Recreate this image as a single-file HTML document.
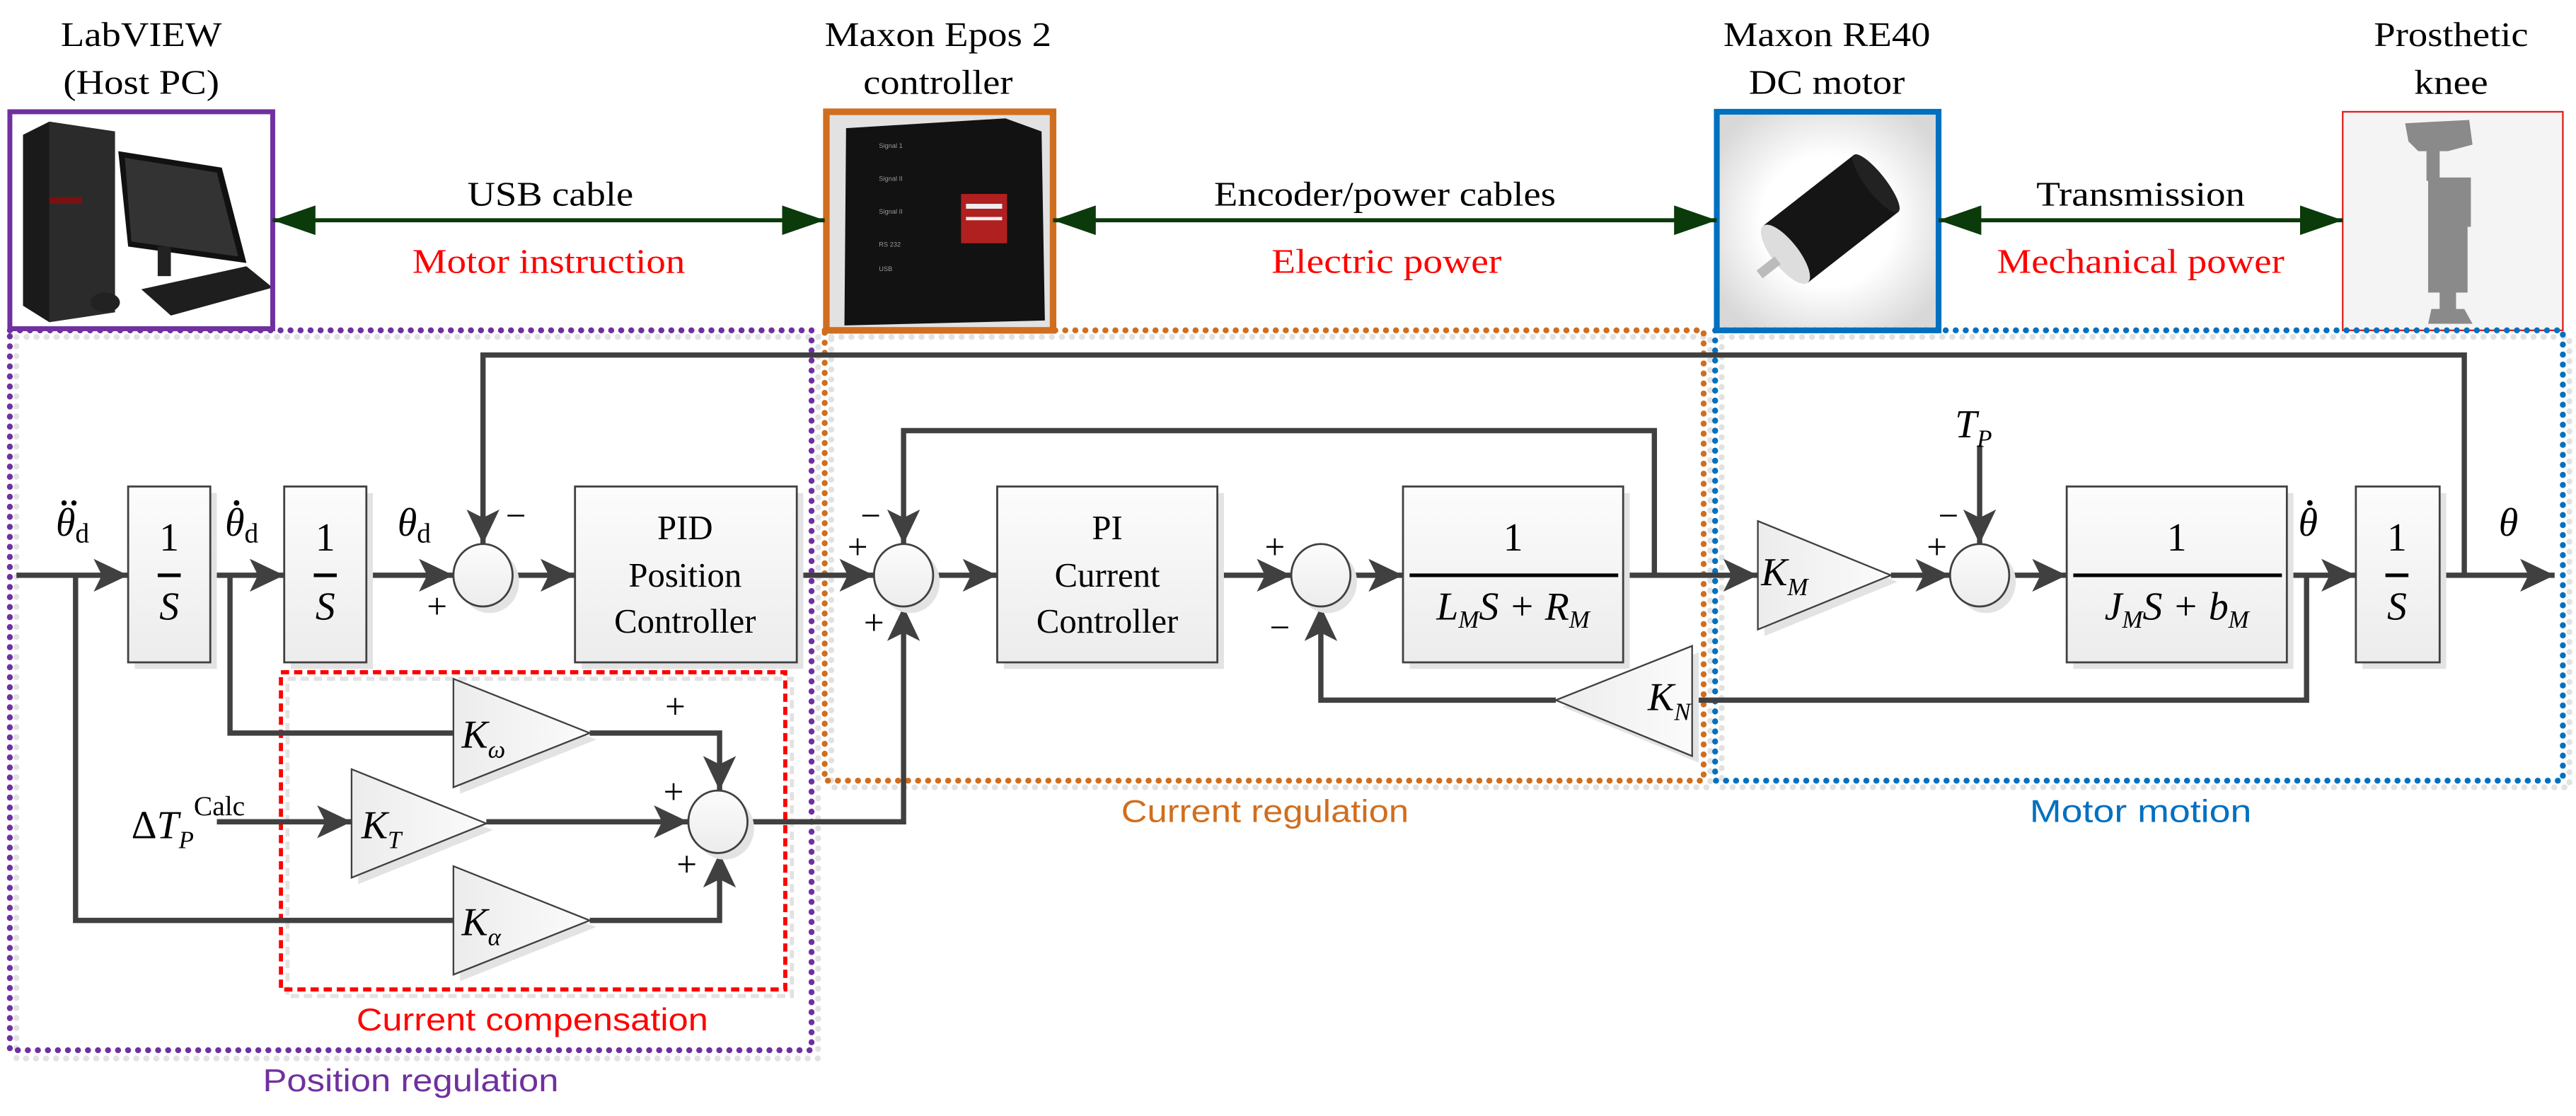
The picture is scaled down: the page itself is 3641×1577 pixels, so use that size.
<!DOCTYPE html>
<html><head><meta charset="utf-8"><style>
html,body{margin:0;padding:0;background:#fff;}
svg{display:block;}
.t{font-family:"Liberation Serif",serif;font-size:21px;fill:#000;}
.r{fill:#ff0000;}
.m{font-family:"Liberation Serif",serif;font-style:italic;font-size:24px;fill:#000;}
.s{font-family:"Liberation Sans Narrow","Liberation Sans",sans-serif;font-size:19px;}
.ln{fill:none;stroke:#404040;stroke-width:3.2;}
.blk{fill:url(#g);stroke:#404040;stroke-width:1.2;}
.sh{fill:#e3e3e3;}
.sg{font-family:"Liberation Serif",serif;font-size:22px;fill:#000;}
</style></head><body>
<svg width="3641" height="1577" viewBox="0 0 1568 679" preserveAspectRatio="none" xmlns="http://www.w3.org/2000/svg">
<defs>
<linearGradient id="g" x1="0" y1="0" x2="0" y2="1"><stop offset="0" stop-color="#fcfcfc"/><stop offset="1" stop-color="#ececec"/></linearGradient>
<linearGradient id="tg" x1="0" y1="0" x2="1" y2="0"><stop offset="0" stop-color="#ececec"/><stop offset="1" stop-color="#fbfbfb"/></linearGradient>
<marker id="a" markerUnits="userSpaceOnUse" viewBox="0 0 21 20" refX="21" refY="10" markerWidth="21" markerHeight="20" orient="auto"><path d="M0 0 L21 10 L0 20 L5 10 Z" fill="#404040"/></marker>
<marker id="ga" markerUnits="userSpaceOnUse" viewBox="0 0 26 18" refX="26" refY="9" markerWidth="26" markerHeight="18" orient="auto-start-reverse"><path d="M0 0 L26 9 L0 18 Z" fill="#0b3a0b"/></marker>
<radialGradient id="mg" cx="0.5" cy="0.5" r="0.6"><stop offset="0.5" stop-color="#fff"/><stop offset="1" stop-color="#d8d8d8"/></radialGradient>
</defs>

<!-- top labels -->
<text class="t" x="86" y="28" text-anchor="middle" textLength="98" lengthAdjust="spacingAndGlyphs">LabVIEW</text>
<text class="t" x="86" y="57" text-anchor="middle" textLength="95" lengthAdjust="spacingAndGlyphs">(Host PC)</text>
<text class="t" x="571" y="28" text-anchor="middle" textLength="138" lengthAdjust="spacingAndGlyphs">Maxon Epos 2</text>
<text class="t" x="571" y="57" text-anchor="middle" textLength="91" lengthAdjust="spacingAndGlyphs">controller</text>
<text class="t" x="1112" y="28" text-anchor="middle" textLength="126" lengthAdjust="spacingAndGlyphs">Maxon RE40</text>
<text class="t" x="1112" y="57" text-anchor="middle" textLength="95" lengthAdjust="spacingAndGlyphs">DC motor</text>
<text class="t" x="1492" y="28" text-anchor="middle" textLength="94" lengthAdjust="spacingAndGlyphs">Prosthetic</text>
<text class="t" x="1492" y="57" text-anchor="middle" textLength="45" lengthAdjust="spacingAndGlyphs">knee</text>

<!-- PC image -->
<rect x="6" y="68" width="160" height="132" fill="#fff"/>
<polygon points="14,82 30,74 70,80 70,190 30,196 14,186" fill="#1a1a1a"/>
<polygon points="30,74 70,80 70,190 30,196" fill="#2b2b2b"/>
<rect x="30" y="120" width="20" height="4" fill="#7a1010"/>
<polygon points="72,92 135,102 150,160 78,150" fill="#111"/>
<polygon points="76,96 132,105 145,156 80,147" fill="#333"/>
<rect x="96" y="150" width="8" height="18" fill="#222"/>
<polygon points="86,176 150,162 166,175 104,192" fill="#1e1e1e"/>
<ellipse cx="64" cy="184" rx="9" ry="6" fill="#222"/>
<rect x="6" y="68" width="160" height="132" fill="none" stroke="#7030a0" stroke-width="3"/>

<!-- controller image -->
<rect x="503" y="68" width="138" height="133" fill="#e2e2e2"/>
<polygon points="515,78 612,72 634,80 636,195 514,198" fill="#121212"/>
<rect x="585" y="118" width="28" height="30" fill="#b02020"/>
<rect x="588" y="124" width="22" height="3" fill="#eee"/>
<rect x="588" y="132" width="22" height="2" fill="#eee"/>
<g fill="#999" font-size="4" font-family="Liberation Sans,sans-serif"><text x="535" y="90">Signal 1</text><text x="535" y="110">Signal II</text><text x="535" y="130">Signal II</text><text x="535" y="150">RS 232</text><text x="535" y="165">USB</text></g>
<rect x="503" y="68" width="138" height="133" fill="none" stroke="#d06e1e" stroke-width="4"/>

<!-- motor image -->
<rect x="1045" y="68" width="135" height="133" fill="url(#mg)"/>
<g transform="rotate(-38 1112 135)">
<rect x="1080" y="113" width="70" height="44" fill="#151515"/>
<ellipse cx="1150" cy="135" rx="6" ry="22" fill="#222"/>
<ellipse cx="1080" cy="135" rx="8" ry="22" fill="#ddd"/>
<rect x="1060" y="132" width="14" height="6" fill="#bbb"/>
</g>
<rect x="1045" y="68" width="135" height="133" fill="none" stroke="#0070c0" stroke-width="3.5"/>

<!-- knee image -->
<rect x="1426" y="68" width="134" height="133" fill="#f4f4f4"/>
<g fill="#8a8a8a">
<polygon points="1464,75 1503,73 1505,88 1490,92 1472,92 1466,86"/>
<rect x="1477" y="90" width="8" height="20"/>
<rect x="1478" y="108" width="26" height="30"/>
<rect x="1478" y="138" width="24" height="40"/>
<rect x="1485" y="175" width="10" height="15"/>
<polygon points="1480,188 1500,188 1505,197 1478,197"/>
</g>
<rect x="1426" y="68" width="134" height="133" fill="none" stroke="#e02020" stroke-width="1"/>

<!-- double arrows -->
<path d="M166 134 H502" stroke="#0b3a0b" stroke-width="2.5" marker-start="url(#ga)" marker-end="url(#ga)"/>
<path d="M641 134 H1045" stroke="#0b3a0b" stroke-width="2.5" marker-start="url(#ga)" marker-end="url(#ga)"/>
<path d="M1180 134 H1426" stroke="#0b3a0b" stroke-width="2.5" marker-start="url(#ga)" marker-end="url(#ga)"/>
<text class="t" x="335" y="125" text-anchor="middle" textLength="101" lengthAdjust="spacingAndGlyphs">USB cable</text>
<text class="t r" x="334" y="166" text-anchor="middle" textLength="166" lengthAdjust="spacingAndGlyphs">Motor instruction</text>
<text class="t" x="843" y="125" text-anchor="middle" textLength="208" lengthAdjust="spacingAndGlyphs">Encoder/power cables</text>
<text class="t r" x="844" y="166" text-anchor="middle" textLength="140" lengthAdjust="spacingAndGlyphs">Electric power</text>
<text class="t" x="1303" y="125" text-anchor="middle" textLength="127" lengthAdjust="spacingAndGlyphs">Transmission</text>
<text class="t r" x="1303" y="166" text-anchor="middle" textLength="175" lengthAdjust="spacingAndGlyphs">Mechanical power</text>

<!-- region boxes shadows -->
<g fill="none" stroke="#e2e2e2" stroke-width="3.6" stroke-linecap="round" stroke-dasharray="0.1 6">
<rect x="10" y="205" width="488" height="439"/>
<rect x="506" y="205" width="535" height="274"/>
<rect x="1048" y="205" width="516" height="274"/>
</g>
<!-- region boxes -->
<g fill="none" stroke-width="3.6" stroke-linecap="round" stroke-dasharray="0.1 6">
<rect x="6" y="201" width="488" height="438" stroke="#7030a0"/>
<rect x="502" y="201" width="535" height="274" stroke="#d06e1e"/>
<rect x="1044" y="201" width="516" height="274" stroke="#0070c0"/>
</g>
<rect x="175" y="413" width="307" height="193" fill="none" stroke="#e2e2e2" stroke-width="2.5" stroke-dasharray="5 3"/>
<rect x="171" y="409" width="307" height="193" fill="none" stroke="#ff0000" stroke-width="2.5" stroke-dasharray="5 3"/>
<text class="s" x="324" y="627" text-anchor="middle" fill="#ff0000" textLength="214" lengthAdjust="spacingAndGlyphs">Current compensation</text>
<text class="s" x="250" y="664" text-anchor="middle" fill="#7030a0" textLength="180" lengthAdjust="spacingAndGlyphs">Position regulation</text>
<text class="s" x="770" y="500" text-anchor="middle" fill="#d06e1e" textLength="175" lengthAdjust="spacingAndGlyphs">Current regulation</text>
<text class="s" x="1303" y="500" text-anchor="middle" fill="#0070c0" textLength="135" lengthAdjust="spacingAndGlyphs">Motor motion</text>

<!-- signal lines -->
<g class="ln">
<path d="M10 350 H78" marker-end="url(#a)"/>
<path d="M46 350 V560 H276"/>
<path d="M128 350 H173" marker-end="url(#a)"/>
<path d="M140 350 V446 H276"/>
<path d="M223 350 H276" marker-end="url(#a)"/>
<path d="M312 350 H350" marker-end="url(#a)"/>
<path d="M485 350 H532" marker-end="url(#a)"/>
<path d="M568 350 H607" marker-end="url(#a)"/>
<path d="M741 350 H786" marker-end="url(#a)"/>
<path d="M822 350 H854" marker-end="url(#a)"/>
<path d="M988 350 H1070" marker-end="url(#a)"/>
<path d="M1007 350 V262 H550 V331" marker-end="url(#a)"/>
<path d="M1151 350 H1187" marker-end="url(#a)"/>
<path d="M1223 350 H1258" marker-end="url(#a)"/>
<path d="M1392 350 H1434" marker-end="url(#a)"/>
<path d="M1404 350 V426 H1030"/>
<path d="M947 426 H804 V369" marker-end="url(#a)"/>
<path d="M1485 350 H1555" marker-end="url(#a)"/>
<path d="M1500 350 V216 H294 V331" marker-end="url(#a)"/>
<path d="M1205 271 V331" marker-end="url(#a)"/>
<path d="M132 500 H214" marker-end="url(#a)"/>
<path d="M359 446 H438 V481" marker-end="url(#a)"/>
<path d="M296 500 H419" marker-end="url(#a)"/>
<path d="M359 560 H438 V519" marker-end="url(#a)"/>
<path d="M456 500 H550 V369" marker-end="url(#a)"/>
</g>

<!-- blocks -->
<g>
<rect class="sh" x="82" y="300" width="50" height="107"/><rect class="blk" x="78" y="296" width="50" height="107"/>
<rect class="sh" x="177" y="300" width="50" height="107"/><rect class="blk" x="173" y="296" width="50" height="107"/>
<rect class="sh" x="354" y="300" width="135" height="107"/><rect class="blk" x="350" y="296" width="135" height="107"/>
<rect class="sh" x="611" y="300" width="134" height="107"/><rect class="blk" x="607" y="296" width="134" height="107"/>
<rect class="sh" x="858" y="300" width="134" height="107"/><rect class="blk" x="854" y="296" width="134" height="107"/>
<rect class="sh" x="1262" y="300" width="134" height="107"/><rect class="blk" x="1258" y="296" width="134" height="107"/>
<rect class="sh" x="1438" y="300" width="51" height="107"/><rect class="blk" x="1434" y="296" width="51" height="107"/>
</g>

<!-- triangles -->
<polygon points="280,417 280,483 363,450" class="sh"/><polygon points="276,413 276,479 359,446" fill="url(#tg)" stroke="#404040" stroke-width="1"/>
<polygon points="218,472 218,538 300,505" class="sh"/><polygon points="214,468 214,534 296,501" fill="url(#tg)" stroke="#404040" stroke-width="1"/>
<polygon points="280,531 280,597 363,564" class="sh"/><polygon points="276,527 276,593 359,560" fill="url(#tg)" stroke="#404040" stroke-width="1"/>
<polygon points="1074,321 1074,387 1155,354" class="sh"/><polygon points="1070,317 1070,383 1151,350" fill="url(#tg)" stroke="#404040" stroke-width="1"/>
<polygon points="1034,397 1034,464 951,430" class="sh"/><polygon points="1030,393 1030,460 947,426" fill="url(#tg)" stroke="#404040" stroke-width="1"/>

<!-- summing junctions -->
<g>
<ellipse cx="298" cy="354" rx="18" ry="19" fill="#e3e3e3"/><ellipse cx="294" cy="350" rx="18" ry="19" fill="url(#g)" stroke="#404040" stroke-width="1.2"/>
<ellipse cx="554" cy="354" rx="18" ry="19" fill="#e3e3e3"/><ellipse cx="550" cy="350" rx="18" ry="19" fill="url(#g)" stroke="#404040" stroke-width="1.2"/>
<ellipse cx="808" cy="354" rx="18" ry="19" fill="#e3e3e3"/><ellipse cx="804" cy="350" rx="18" ry="19" fill="url(#g)" stroke="#404040" stroke-width="1.2"/>
<ellipse cx="1209" cy="354" rx="18" ry="19" fill="#e3e3e3"/><ellipse cx="1205" cy="350" rx="18" ry="19" fill="url(#g)" stroke="#404040" stroke-width="1.2"/>
<ellipse cx="441" cy="504" rx="18" ry="19" fill="#e3e3e3"/><ellipse cx="437" cy="500" rx="18" ry="19" fill="url(#g)" stroke="#404040" stroke-width="1.2"/>
</g>

<!-- block texts -->
<g class="t" text-anchor="middle">
<text x="103" y="335" style="font-size:24px">1</text>
<text x="198" y="335" style="font-size:24px">1</text>
<text x="1459" y="335" style="font-size:24px">1</text>
<text x="921" y="335" style="font-size:24px">1</text>
<text x="1325" y="335" style="font-size:24px">1</text>
</g>
<g stroke="#000" stroke-width="2.2">
<path d="M96 350 H110"/><path d="M191 350 H205"/><path d="M1452 350 H1466"/>
<path d="M858 350 H985"/><path d="M1262 350 H1389"/>
</g>
<g class="m" text-anchor="middle">
<text x="103" y="377">S</text><text x="198" y="377">S</text><text x="1459" y="377">S</text>
<text x="921" y="377">L<tspan font-size="15" dy="5">M</tspan><tspan dy="-5">S + R</tspan><tspan font-size="15" dy="5">M</tspan></text>
<text x="1325" y="377">J<tspan font-size="15" dy="5">M</tspan><tspan dy="-5">S + b</tspan><tspan font-size="15" dy="5">M</tspan></text>
</g>
<g class="t" text-anchor="middle">
<text x="417" y="328">PID</text>
<text x="417" y="357">Position</text>
<text x="417" y="385">Controller</text>
<text x="674" y="328">PI</text>
<text x="674" y="357">Current</text>
<text x="674" y="385">Controller</text>
</g>

<!-- gains labels -->
<g class="m">
<text x="281" y="455">K<tspan font-size="15" dy="6">ω</tspan></text>
<text x="220" y="510">K<tspan font-size="15" dy="6">T</tspan></text>
<text x="281" y="569">K<tspan font-size="15" dy="6">α</tspan></text>
<text x="1072" y="356">K<tspan font-size="15" dy="6">M</tspan></text>
<text x="1003" y="432">K<tspan font-size="15" dy="6">N</tspan></text>
<text x="1190" y="266">T<tspan font-size="15" dy="6">P</tspan></text>
<text x="80" y="510"><tspan font-style="normal">Δ</tspan>T<tspan font-size="15" dy="6">P</tspan><tspan font-style="normal" font-size="17" dy="-20">Calc</tspan></text>
</g>

<!-- signal labels -->
<g class="m">
<text x="34" y="326">θ<tspan font-style="normal" font-size="17" dy="4">d</tspan></text>
<text x="137" y="326">θ<tspan font-style="normal" font-size="17" dy="4">d</tspan></text>
<text x="242" y="326">θ<tspan font-style="normal" font-size="17" dy="4">d</tspan></text>
<text x="1399" y="326">θ</text>
<text x="1521" y="326">θ</text>
</g>
<g fill="#000">
<circle cx="39" cy="306" r="1.6"/><circle cx="45" cy="306" r="1.6"/>
<circle cx="144" cy="306" r="1.7"/>
<circle cx="1406" cy="306" r="1.7"/>
</g>

<!-- signs -->
<g class="sg" text-anchor="middle">
<text x="314" y="321">−</text><text x="266" y="376">+</text>
<text x="530" y="321">−</text><text x="522" y="340">+</text><text x="532" y="386">+</text>
<text x="776" y="340">+</text><text x="779" y="389">−</text>
<text x="1186" y="321">−</text><text x="1179" y="340">+</text>
<text x="411" y="437">+</text><text x="410" y="489">+</text><text x="418" y="533">+</text>
</g>
</svg>
</body></html>
